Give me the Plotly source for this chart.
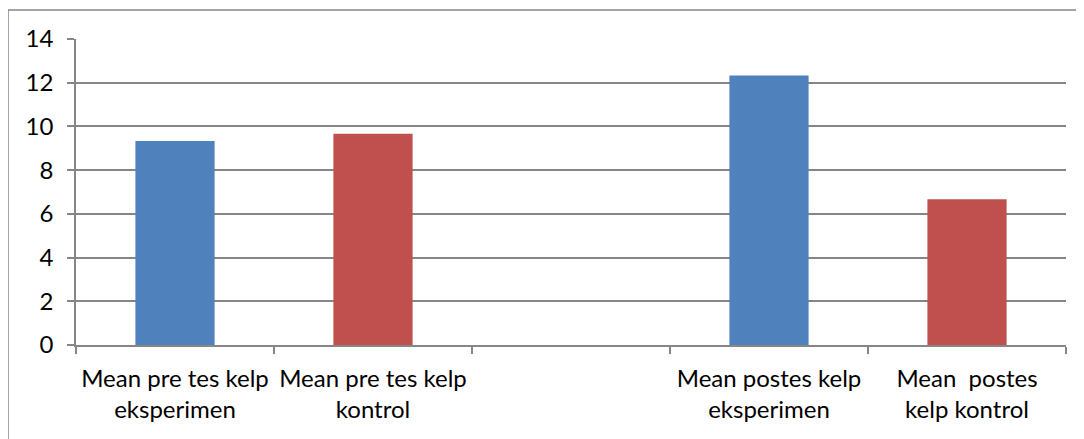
import plotly.graph_objects as go

categories = ["Mean pre tes kelp<br>eksperimen", "Mean pre tes kelp<br>kontrol", " ",
              "Mean postes kelp<br>eksperimen", "Mean  postes<br>kelp kontrol"]
values = [9.33, 9.67, None, 12.33, 6.67]
colors = ["#4F81BD", "#C0504D", "#4F81BD", "#4F81BD", "#C0504D"]
y_ticks = [0, 2, 4, 6, 8, 10, 12, 14]

# page body has an 8px margin, so the figure is drawn 8px in from the window edge
W, H = 1076, 431
L, R, T, B = 68, 18, 31, 94
pw, ph = W - L - R, H - T - B

fig = go.Figure(go.Bar(
    x=categories, y=values, marker=dict(color=colors, line=dict(width=0)),
    width=0.4, showlegend=False, hoverinfo="skip"))

font = dict(family="Lato, Open Sans, sans-serif", size=24, color="#000000")
fig.update_layout(
    width=W, height=H, margin=dict(l=L, r=R, t=T, b=B),
    paper_bgcolor="white", plot_bgcolor="white", font=font,
    xaxis=dict(type="category", tickson="boundaries", ticks="outside", ticklen=7,
               tickcolor="#868686", tickwidth=1.5, showline=True, linecolor="#868686",
               linewidth=1.5, showgrid=False, tickfont=font, ticklabelstandoff=11,
               range=[-0.5, 4.5]),
    yaxis=dict(range=[0, 14], tickvals=y_ticks, ticks="outside", ticklen=7,
               tickcolor="#868686", tickwidth=1.5, showline=True, linecolor="#868686",
               linewidth=1.5, showgrid=True, gridcolor="#868686", gridwidth=1.5,
               zeroline=False, tickfont=font, ticklabelstandoff=9),
)

# chart-area border (left and top edges visible)
bx = (0 - L) / pw
by = (H - B - 2) / ph
fig.add_shape(type="line", xref="paper", yref="paper", x0=bx, x1=bx, y0=by, y1=-0.5,
              line=dict(color="#868686", width=1.5))
fig.add_shape(type="line", xref="paper", yref="paper", x0=bx, x1=1.2, y0=by, y1=by,
              line=dict(color="#868686", width=1.5))

fig.write_html("out.html")
